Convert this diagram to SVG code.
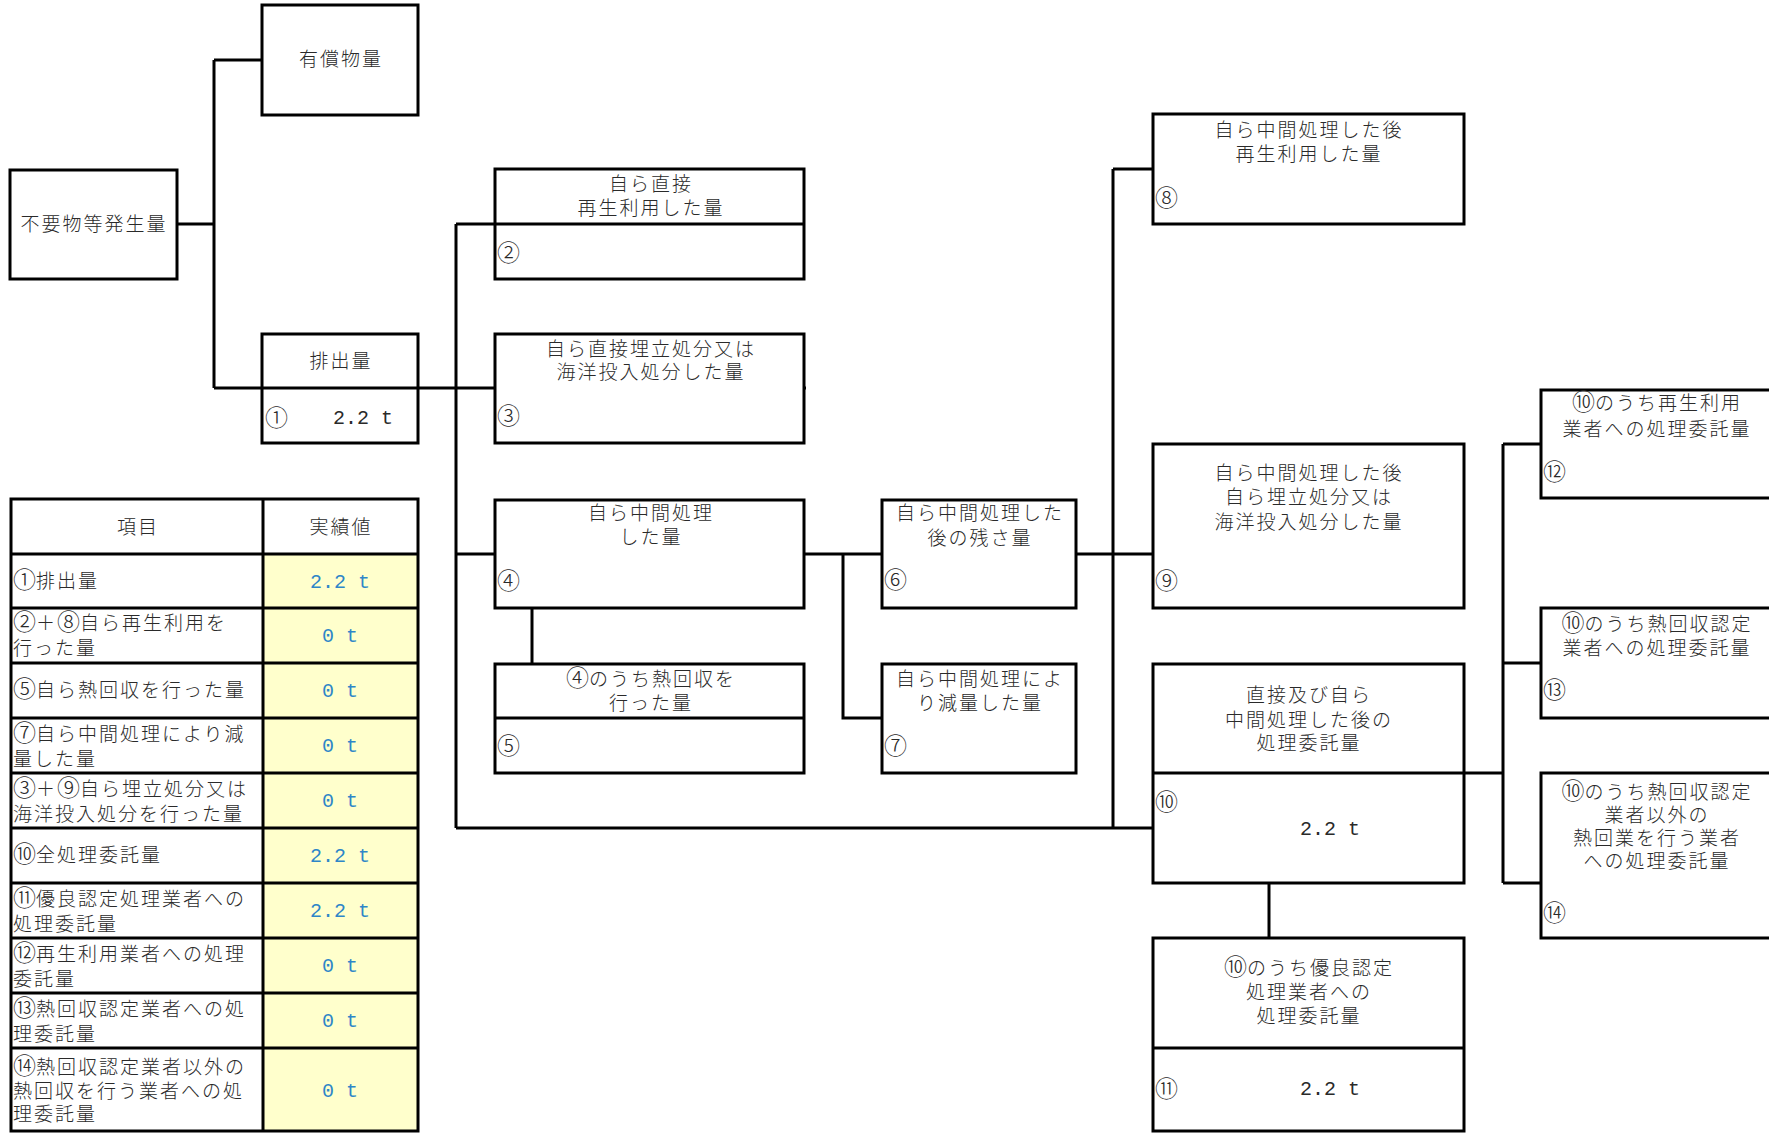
<svg xmlns="http://www.w3.org/2000/svg" width="1769" height="1143" viewBox="0 0 1769 1143">
<style>
.b{fill:#fff;stroke:#000;stroke-width:3}
.d{stroke:#000;stroke-width:3;fill:none}
.c{stroke:#000;stroke-width:3;fill:none}
text{font-family:"Noto Sans CJK JP","Noto Sans CJK SC",sans-serif;font-size:19px;font-weight:300;letter-spacing:2px;fill:#2a2a2a}
.m{text-anchor:middle}
.k{font-size:23px;letter-spacing:0}
.n{font-family:"Liberation Mono","DejaVu Sans Mono",monospace;font-size:20px;letter-spacing:0;font-weight:400}
.v{font-family:"Liberation Mono","DejaVu Sans Mono",monospace;font-size:20px;letter-spacing:0;font-weight:400;fill:#2E86C8;text-anchor:middle}
.y{fill:#FFFFCC}
</style>
<rect width="1769" height="1143" fill="#fff"/>

<g id="connectors">
<path class="c" d="M177,224 H214 M214,60 V388 M214,60 H262 M214,388 H806"/>
<path class="c" d="M456,224 V828 M456,224 H495 M456,554 H1153 M456,828 H1153"/>
<path class="c" d="M532,608 V664"/>
<path class="c" d="M843,554 V718 H882"/>
<path class="c" d="M1113,169 H1153 M1113,169 V828"/>
<path class="c" d="M1269,883 V938"/>
<path class="c" d="M1464,773 H1503 M1503,444 V883 M1503,444 H1541 M1503,663 H1541 M1503,883 H1541"/>
</g>

<g id="node-hassei">
<rect class="b" x="10" y="170" width="167" height="109"/>
<text class="m" x="94" y="231">不要物等発生量</text>
</g>

<g id="node-yushou">
<rect class="b" x="262" y="5" width="156" height="110"/>
<text class="m" x="341" y="66">有償物量</text>
</g>

<g id="node-1">
<rect class="b" x="262" y="334" width="156" height="109"/>
<line class="d" x1="262" y1="388" x2="418" y2="388"/>
<text class="m" x="341" y="368">排出量</text>
<text class="k" x="265" y="426">①</text>
<text class="n" x="333" y="424">2.2 t</text>
</g>

<g id="node-2">
<rect class="b" x="495" y="169" width="309" height="110"/>
<line class="d" x1="495" y1="224" x2="804" y2="224"/>
<text class="m" x="651" y="191">自ら直接</text>
<text class="m" x="651" y="215">再生利用した量</text>
<text class="k" x="497" y="261">②</text>
</g>

<g id="node-3">
<rect class="b" x="495" y="334" width="309" height="109"/>
<text class="m" x="651" y="356">自ら直接埋立処分又は</text>
<text class="m" x="651" y="379">海洋投入処分した量</text>
<text class="k" x="497" y="424">③</text>
</g>

<g id="node-4">
<rect class="b" x="495" y="500" width="309" height="108"/>
<text class="m" x="651" y="520">自ら中間処理</text>
<text class="m" x="651" y="544">した量</text>
<text class="k" x="497" y="589">④</text>
</g>

<g id="node-5">
<rect class="b" x="495" y="664" width="309" height="109"/>
<line class="d" x1="495" y1="718" x2="804" y2="718"/>
<text class="m" x="651" y="686"><tspan class="k">④</tspan>のうち熱回収を</text>
<text class="m" x="651" y="710">行った量</text>
<text class="k" x="497" y="754">⑤</text>
</g>

<g id="node-6">
<rect class="b" x="882" y="500" width="194" height="108"/>
<text class="m" x="980" y="520">自ら中間処理した</text>
<text class="m" x="980" y="545">後の残さ量</text>
<text class="k" x="884" y="588">⑥</text>
</g>

<g id="node-7">
<rect class="b" x="882" y="664" width="194" height="109"/>
<text class="m" x="980" y="686">自ら中間処理によ</text>
<text class="m" x="980" y="710">り減量した量</text>
<text class="k" x="884" y="754">⑦</text>
</g>

<g id="node-8">
<rect class="b" x="1153" y="114" width="311" height="110"/>
<text class="m" x="1309" y="137">自ら中間処理した後</text>
<text class="m" x="1309" y="161">再生利用した量</text>
<text class="k" x="1155" y="206">⑧</text>
</g>

<g id="node-9">
<rect class="b" x="1153" y="444" width="311" height="164"/>
<text class="m" x="1309" y="480">自ら中間処理した後</text>
<text class="m" x="1309" y="504">自ら埋立処分又は</text>
<text class="m" x="1309" y="529">海洋投入処分した量</text>
<text class="k" x="1155" y="589">⑨</text>
</g>

<g id="node-10">
<rect class="b" x="1153" y="664" width="311" height="219"/>
<line class="d" x1="1153" y1="773" x2="1464" y2="773"/>
<text class="m" x="1309" y="702">直接及び自ら</text>
<text class="m" x="1309" y="727">中間処理した後の</text>
<text class="m" x="1309" y="750">処理委託量</text>
<text class="k" x="1155" y="810">⑩</text>
<text class="n" x="1300" y="835">2.2 t</text>
</g>

<g id="node-11">
<rect class="b" x="1153" y="938" width="311" height="193"/>
<line class="d" x1="1153" y1="1048" x2="1464" y2="1048"/>
<text class="m" x="1309" y="975"><tspan class="k">⑩</tspan>のうち優良認定</text>
<text class="m" x="1309" y="999">処理業者への</text>
<text class="m" x="1309" y="1023">処理委託量</text>
<text class="k" x="1155" y="1097">⑪</text>
<text class="n" x="1300" y="1095">2.2 t</text>
</g>

<g id="node-12">
<rect class="b" x="1541" y="390" width="240" height="108"/>
<text class="m" x="1657" y="410"><tspan class="k">⑩</tspan>のうち再生利用</text>
<text class="m" x="1657" y="436">業者への処理委託量</text>
<text class="k" x="1543" y="480">⑫</text>
</g>

<g id="node-13">
<rect class="b" x="1541" y="608" width="240" height="110"/>
<text class="m" x="1657" y="631"><tspan class="k">⑩</tspan>のうち熱回収認定</text>
<text class="m" x="1657" y="655">業者への処理委託量</text>
<text class="k" x="1543" y="698">⑬</text>
</g>

<g id="node-14">
<rect class="b" x="1541" y="773" width="240" height="165"/>
<text class="m" x="1657" y="799"><tspan class="k">⑩</tspan>のうち熱回収認定</text>
<text class="m" x="1657" y="822">業者以外の</text>
<text class="m" x="1657" y="845">熱回業を行う業者</text>
<text class="m" x="1657" y="868">への処理委託量</text>
<text class="k" x="1543" y="921">⑭</text>
</g>

<g id="table">
<rect class="y" x="263" y="554" width="155" height="577"/>
<rect x="11" y="499" width="407" height="632" fill="none" stroke="#000" stroke-width="3"/>
<path class="d" d="M263,499 V1131 M11,554 H418 M11,608 H418 M11,663 H418 M11,718 H418 M11,773 H418 M11,828 H418 M11,883 H418 M11,938 H418 M11,993 H418 M11,1048 H418"/>
<text class="m" x="138" y="534">項目</text>
<text class="m" x="341" y="534">実績値</text>
<text x="13" y="588"><tspan class="k">①</tspan>排出量</text>
<text x="13" y="630"><tspan class="k">②</tspan>＋<tspan class="k">⑧</tspan>自ら再生利用を</text>
<text x="13" y="655">行った量</text>
<text x="13" y="697"><tspan class="k">⑤</tspan>自ら熱回収を行った量</text>
<text x="13" y="741"><tspan class="k">⑦</tspan>自ら中間処理により減</text>
<text x="13" y="766">量した量</text>
<text x="13" y="796"><tspan class="k">③</tspan>＋<tspan class="k">⑨</tspan>自ら埋立処分又は</text>
<text x="13" y="821">海洋投入処分を行った量</text>
<text x="13" y="862"><tspan class="k">⑩</tspan>全処理委託量</text>
<text x="13" y="906"><tspan class="k">⑪</tspan>優良認定処理業者への</text>
<text x="13" y="931">処理委託量</text>
<text x="13" y="961"><tspan class="k">⑫</tspan>再生利用業者への処理</text>
<text x="13" y="986">委託量</text>
<text x="13" y="1016"><tspan class="k">⑬</tspan>熱回収認定業者への処</text>
<text x="13" y="1041">理委託量</text>
<text x="13" y="1074"><tspan class="k">⑭</tspan>熱回収認定業者以外の</text>
<text x="13" y="1098">熱回収を行う業者への処</text>
<text x="13" y="1121">理委託量</text>
<text class="v" x="340" y="588">2.2 t</text>
<text class="v" x="340" y="642">0 t</text>
<text class="v" x="340" y="697">0 t</text>
<text class="v" x="340" y="752">0 t</text>
<text class="v" x="340" y="807">0 t</text>
<text class="v" x="340" y="862">2.2 t</text>
<text class="v" x="340" y="917">2.2 t</text>
<text class="v" x="340" y="972">0 t</text>
<text class="v" x="340" y="1027">0 t</text>
<text class="v" x="340" y="1097">0 t</text>
</g>
</svg>
